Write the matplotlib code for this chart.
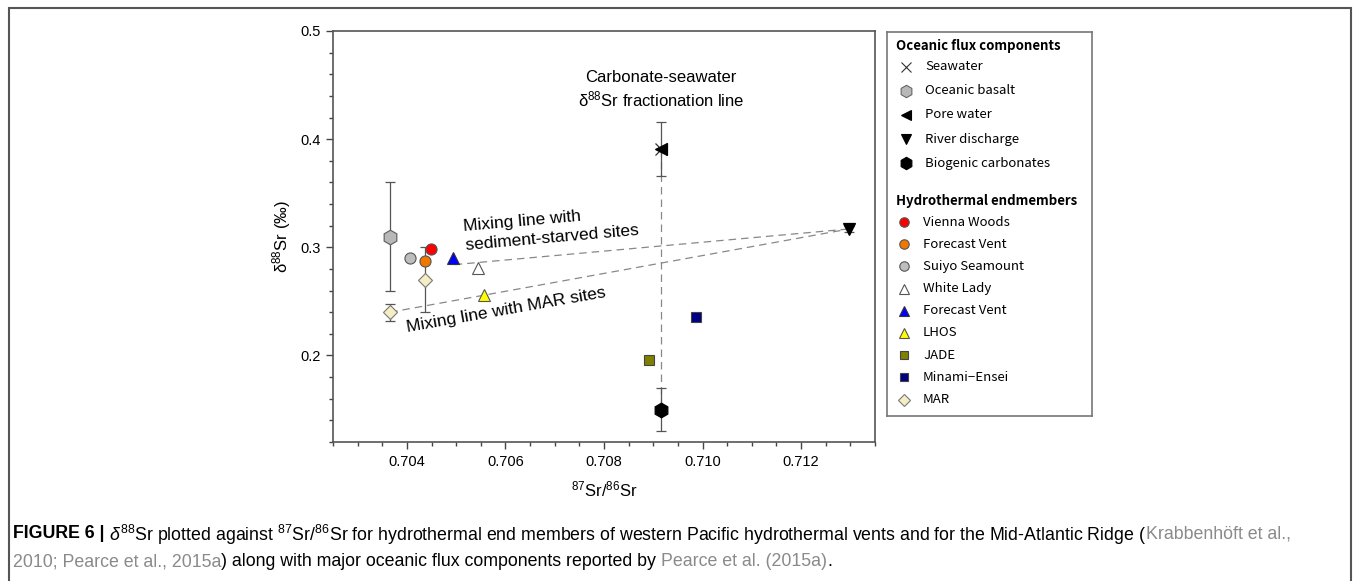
import numpy as np
import matplotlib
matplotlib.use('Agg')
import matplotlib.pyplot as plt
from matplotlib.ticker import MultipleLocator, FixedLocator
from matplotlib.patches import Rectangle

plt.rcParams['font.family'] = ['Liberation Sans', 'DejaVu Sans']
plt.rcParams['mathtext.fontset'] = 'custom'
plt.rcParams['mathtext.rm'] = 'Liberation Sans'
plt.rcParams['mathtext.it'] = 'Liberation Sans:italic'
plt.rcParams['mathtext.bf'] = 'Liberation Sans:bold'

# oceanic flux components (87Sr/86Sr, d88Sr, error)
flux_names = ['Seawater', 'Oceanic basalt', 'Pore water', 'River discharge', 'Biogenic carbonates']
flux_x = [0.70916, 0.70366, 0.70916, 0.71298, 0.70916]
flux_y = [0.391, 0.310, 0.391, 0.317, 0.150]
flux_err = [0.025, 0.050, 0.0, 0.003, 0.020]

# hydrothermal endmembers
hyd_names = ['Vienna Woods', 'Forecast Vent', 'Suiyo Seamount', 'White Lady',
             'Forecast Vent', 'LHOS', 'JADE', 'Minami\u2212Ensei']
hyd_x = [0.70448, 0.70436, 0.70407, 0.70545, 0.70494, 0.70556, 0.70891, 0.70987]
hyd_y = [0.298, 0.287, 0.290, 0.281, 0.290, 0.256, 0.196, 0.236]

# Mid-Atlantic Ridge
mar_x = [0.70366, 0.70436]
mar_y = [0.240, 0.270]
mar_err = [0.008, 0.030]

# mixing / fractionation lines
starved_x = [0.70497, 0.71298]
starved_y = [0.284, 0.317]
marline_x = [0.70366, 0.71298]
marline_y = [0.240, 0.317]
frac_x = [0.70916, 0.70916]
frac_y = [0.391, 0.150]

# marker styles
flux_style = [('x', 'none', '#333333', 9), ('h', '#b8b8b8', '#666666', 10.5),
              ('<', 'black', 'black', 8), ('v', 'black', 'black', 8),
              ('h', 'black', 'black', 10.5)]
hyd_style = [('o', '#ff0000', '#555555', 8), ('o', '#f07800', '#555555', 8),
             ('o', '#bdbdbd', '#555555', 8), ('^', 'white', '#555555', 8.5),
             ('^', '#0000ff', '#333333', 8.5), ('^', '#ffff00', '#555555', 8.5),
             ('s', '#808000', '#444444', 7), ('s', '#000080', '#444444', 7)]
mar_style = ('D', '#f5eec4', '#777777', 7.5)

fig = plt.figure(figsize=(13.55, 5.81), dpi=100)
ax = fig.add_axes([333 / 1355, 1 - 442 / 581, 542 / 1355, 411 / 581])

ax.plot(frac_x, frac_y, ls=(0, (6, 4)), color='#888888', lw=0.9, zorder=1)
ax.plot(starved_x, starved_y, ls=(0, (6, 4)), color='#888888', lw=0.9, zorder=1)
ax.plot(marline_x, marline_y, ls=(0, (6, 4)), color='#888888', lw=0.9, zorder=1)

for i in range(len(flux_names)):
    m, fc, ec, ms = flux_style[i]
    if flux_err[i] > 0:
        ax.errorbar(flux_x[i], flux_y[i], yerr=flux_err[i], fmt='none', ecolor='#555555',
                    elinewidth=0.9, capsize=3.5, capthick=0.9, zorder=2)
    ax.plot(flux_x[i], flux_y[i], marker=m, ms=ms, mfc=fc, mec=ec, mew=0.9,
            ls='none', zorder=3)

for i in range(len(mar_x)):
    m, fc, ec, ms = mar_style
    ax.errorbar(mar_x[i], mar_y[i], yerr=mar_err[i], fmt='none', ecolor='#555555',
                elinewidth=0.9, capsize=3.5, capthick=0.9, zorder=2)
    ax.plot(mar_x[i], mar_y[i], marker=m, ms=ms, mfc=fc, mec=ec, mew=0.8,
            ls='none', zorder=3)

for i in range(len(hyd_names)):
    m, fc, ec, ms = hyd_style[i]
    ax.plot(hyd_x[i], hyd_y[i], marker=m, ms=ms, mfc=fc, mec=ec, mew=0.8,
            ls='none', zorder=3)

ax.text(0.70916, 0.4458, 'Carbonate-seawater\n\u03b4$^{88}$Sr fractionation line',
        ha='center', va='center', multialignment='center', fontsize=12, linespacing=1.25)
ax.text(0.70517, 0.3105, 'Mixing line with\nsediment-starved sites', ha='left', va='center',
        rotation=5, rotation_mode='anchor', fontsize=12.5, linespacing=1.3)
ax.text(0.7040, 0.2255, 'Mixing line with MAR sites', ha='left', va='center',
        rotation=10, rotation_mode='anchor', fontsize=12.5)

ax.set_xlim(0.7025, 0.7135)
ax.set_ylim(0.12, 0.5)
ax.xaxis.set_major_locator(FixedLocator([0.704, 0.706, 0.708, 0.710, 0.712]))
ax.xaxis.set_minor_locator(MultipleLocator(0.0005))
ax.yaxis.set_major_locator(FixedLocator([0.2, 0.3, 0.4, 0.5]))
ax.yaxis.set_minor_locator(MultipleLocator(0.02))
ax.set_xticklabels(['0.704', '0.706', '0.708', '0.710', '0.712'])
ax.set_yticklabels(['0.2', '0.3', '0.4', '0.5'])
ax.tick_params(which='major', direction='out', length=5, width=1, color='#444444',
               labelsize=10.5, pad=4)
ax.tick_params(which='minor', direction='out', length=3, width=1, color='#444444')
for sp in ax.spines.values():
    sp.set_color('#555555')
    sp.set_linewidth(1.2)
ax.set_xlabel('$^{87}$Sr/$^{86}$Sr', fontsize=12, labelpad=8)
ax.set_ylabel('\u03b4$^{88}$Sr (\u2030)', fontsize=12, labelpad=5)

# legend box drawn in figure pixel units
lg = fig.add_axes([887 / 1355, 1 - 416 / 581, 205 / 1355, 384 / 581])
lg.set_xlim(887, 1092)
lg.set_ylim(416, 32)
lg.set_xticks([])
lg.set_yticks([])
for sp in lg.spines.values():
    sp.set_color('#777777')
    sp.set_linewidth(1.2)
lfont = ['Noto Sans CJK JP', 'DejaVu Sans']
lg.text(896, 46, 'Oceanic flux components', fontsize=9.5, fontweight='bold',
        family=lfont, va='center')
for i, name in enumerate(flux_names):
    yy = 67 + i * 24
    m, fc, ec, ms = flux_style[i]
    lg.plot(906, yy, marker=m, ms=ms * 0.85, mfc=fc, mec=ec, mew=0.8, ls='none')
    lg.text(925, yy, name, fontsize=9.5, family=lfont, va='center')
lg.text(896, 201, 'Hydrothermal endmembers', fontsize=9.5, fontweight='bold',
        family=lfont, va='center')
hyd_leg = list(zip(hyd_names, hyd_style)) + [('MAR', mar_style)]
for i, (name, st) in enumerate(hyd_leg):
    yy = 222 + i * 22.2
    m, fc, ec, ms = st
    lg.plot(904, yy, marker=m, ms=ms * 0.85, mfc=fc, mec=ec, mew=0.8, ls='none')
    lg.text(923, yy, name, fontsize=9.5, family=lfont, va='center')

# outer frame
fig.patches.append(Rectangle((9 / 1355, -0.1), 1342 / 1355, 1 - 8 / 581 + 0.1,
                             transform=fig.transFigure, fill=False,
                             edgecolor='#555555', lw=1.5))

# caption, drawn piece by piece
cap_fs = 12.8
renderer = fig.canvas.get_renderer()
space = cap_fs * 100 / 72 * 0.278
gray = '#8a8a8a'
line1 = [('FIGURE 6 |', 'bold', 'black', space),
         ('$\\delta^{88}$Sr plotted against $^{87}$Sr/$^{86}$Sr for hydrothermal end members of '
          'western Pacific hydrothermal vents and for the Mid-Atlantic Ridge (', 'normal', 'black', 0),
         ('Krabbenh\u00f6ft et al.,', 'normal', gray, 0)]
line2 = [('2010; Pearce et al., 2015a', 'normal', gray, 0),
         (') along with major oceanic flux components reported by', 'normal', 'black', space),
         ('Pearce et al. (2015a)', 'normal', gray, 0),
         ('.', 'normal', 'black', 0)]
for line, ypix in [(line1, 532), (line2, 560)]:
    xpix = 13
    for s, w, c, gap in line:
        t = fig.text(xpix / 1355, 1 - ypix / 581, s, fontsize=cap_fs, fontweight=w,
                     color=c, va='center_baseline')
        bb = t.get_window_extent(renderer)
        xpix += bb.width + gap

fig.savefig('out.png', dpi=100)
